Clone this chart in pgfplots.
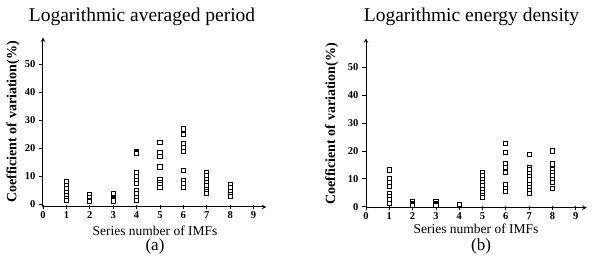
\documentclass[border=0pt]{standalone}
\usepackage{fontspec}
\setmainfont{Liberation Serif}
\usepackage{pgfplots}
\pgfplotsset{compat=1.18}
\begin{document}
\begin{tikzpicture}
\useasboundingbox (0pt,0pt) rectangle (600pt,268pt);
\pgfplotsset{myax/.style={
  scale only axis,
  axis x line=bottom, axis y line=left,
  axis line style={line width=1pt,-stealth},
  xtick={0,...,9}, ytick={0,10,...,50},
  xtick align=center, ytick align=outside,
  major tick length=4pt,
  tick style={black,line width=0.8pt},
  ticklabel style={font=\fontsize{10.5}{12}\selectfont\bfseries},
  /pgf/number format/assume math mode=true,
  xticklabel style={yshift=1pt},
  clip=false,
}, sq/.style={only marks, mark=square*, mark size=2.1pt, black,
    mark options={fill=white, draw=black, line width=0.9pt}}}
% (a)
\begin{axis}[myax, at={(43pt,61pt)}, anchor=south west,
  width=223.4pt, height=169.6pt,
  xmin=0, xmax=9.55, ymin=-1.07, ymax=59.5]
\addplot[sq] coordinates {
 (1,7.9) (1,6.5) (1,5.4) (1,4.1) (1,3.0) (1,1.9) (1,1.2)
 (2,3.3) (2,2.4) (2,1.3) (2,0.8)
 (3,3.8) (3,2.1) (3,1.5) (3,1.1)
 (4,18.9) (4,18.4) (4,18.1) (4,11.1) (4,9.9) (4,8.4) (4,7.3) (4,4.7) (4,3.6) (4,2.4) (4,1.3)
 (5,22.1) (5,18.2) (5,17.0) (5,13.2) (5,8.7) (5,7.7) (5,6.8) (5,5.9)
 (6,26.8) (6,24.8) (6,21.6) (6,20.2) (6,18.7) (6,12.0) (6,8.2) (6,7.2) (6,6.0)
 (7,11.3) (7,10.1) (7,8.9) (7,7.7) (7,6.5) (7,5.3) (7,4.4) (7,3.7)
 (8,6.9) (8,5.8) (8,4.6) (8,3.4) (8,2.6)
};
\end{axis}
% (b)
\begin{axis}[myax, at={(366pt,60.3pt)}, anchor=south west,
  width=220.7pt, height=169.4pt,
  xmin=0, xmax=9.47, ymin=-0.36, ymax=60.4]
\addplot[sq] coordinates {
 (1,13.2) (1,10.2) (1,8.7) (1,7.2) (1,4.8) (1,3.6) (1,2.4) (1,1.2)
 (2,1.8) (2,1.3) (2,0.9) (2,0.5)
 (3,1.8) (3,1.3) (3,0.8) (3,0.5)
 (4,0.9)
 (5,12.3) (5,11.1) (5,9.9) (5,8.7) (5,7.5) (5,6.3) (5,5.2) (5,3.9) (5,3.2)
 (6,22.7) (6,19.4) (6,15.3) (6,14.1) (6,12.3) (6,7.8) (6,6.6) (6,5.6)
 (7,18.8) (7,14.1) (7,13.2) (7,12.0) (7,10.8) (7,9.6) (7,8.1) (7,7.0) (7,5.7) (7,4.8)
 (8,20.0) (8,15.3) (8,13.2) (8,12.2) (8,11.0) (8,9.8) (8,8.6) (8,6.6)
};
\end{axis}
% titles and labels
\node[font=\fontsize{19.5}{22}\selectfont] at (142pt,251pt) {Logarithmic averaged period};
\node[font=\fontsize{19.5}{22}\selectfont] at (471.5pt,251pt) {Logarithmic energy density};
\node[font=\fontsize{14}{16}\selectfont\bfseries, rotate=90] at (13pt,146pt) {Coefficient of variation(\%)};
\node[font=\fontsize{14}{16}\selectfont\bfseries, rotate=90] at (331.7pt,144pt) {Coefficient of variation(\%)};
\node[font=\fontsize{13.5}{15}\selectfont] at (155pt,37pt) {Series number of IMFs};
\node[font=\fontsize{13.5}{15}\selectfont] at (476pt,38.7pt) {Series number of IMFs};
\node[font=\fontsize{17}{19}\selectfont] at (155pt,21.5pt) {(a)};
\node[font=\fontsize{17}{19}\selectfont] at (481pt,22pt) {(b)};
\end{tikzpicture}
\end{document}
